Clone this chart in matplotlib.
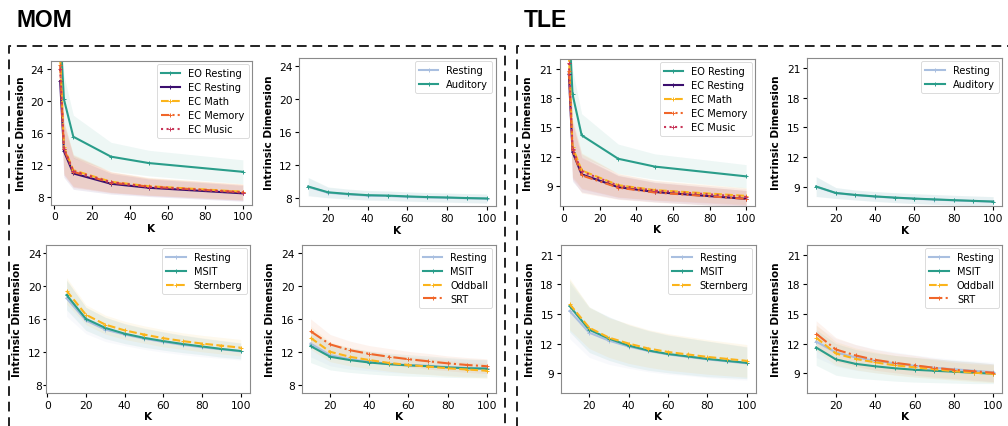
import matplotlib
matplotlib.use("Agg")
import matplotlib.pyplot as plt
from matplotlib.lines import Line2D
import numpy as np

# ---------------- data ----------------
K_rest = [3, 5, 10, 30, 50, 100]
K_task = [10, 20, 30, 40, 50, 60, 70, 80, 90, 100]

# MOM - resting conditions
mom_eo_rest = [29.0, 20.2, 15.5, 13.0, 12.2, 11.1]
mom_eo_rest_sd = [3.0, 3.0, 2.7, 1.8, 1.6, 1.5]
mom_ec_rest = [22.5, 13.7, 10.9, 9.6, 9.1, 8.4]
mom_ec_math = [25.5, 14.2, 11.3, 9.85, 9.3, 8.6]
mom_ec_memory = [24.5, 14.0, 11.1, 9.75, 9.25, 8.55]
mom_ec_music = [24.0, 14.0, 11.2, 9.8, 9.2, 8.5]
mom_ec_sd = [3.0, 3.3, 2.0, 1.3, 1.1, 1.0]

# MOM - auditory
mom_aud_rest = [9.35, 8.65, 8.45, 8.3, 8.25, 8.15, 8.08, 8.03, 7.97, 7.92]
mom_aud = [9.4, 8.7, 8.5, 8.35, 8.3, 8.2, 8.12, 8.07, 8.0, 7.95]
mom_aud_sd = [1.1, 0.65, 0.6, 0.58, 0.57, 0.56, 0.55, 0.55, 0.55, 0.55]

# MOM - MSIT / Sternberg
mom_ms_rest = [18.5, 15.8, 14.7, 14.1, 13.6, 13.2, 12.85, 12.55, 12.3, 12.05]
mom_ms_msit = [18.9, 16.0, 14.9, 14.2, 13.7, 13.3, 12.95, 12.65, 12.35, 12.1]
mom_ms_stern = [19.4, 16.5, 15.3, 14.6, 14.1, 13.65, 13.3, 13.0, 12.75, 12.5]
mom_ms_rest_sd = [2.2, 1.6, 1.45, 1.35, 1.3, 1.25, 1.2, 1.15, 1.1, 1.05]
mom_ms_msit_sd = [1.8, 1.4, 1.3, 1.2, 1.15, 1.1, 1.05, 1.0, 1.0, 0.95]
mom_ms_stern_sd = [1.6, 1.2, 1.15, 1.1, 1.05, 1.05, 1.0, 1.0, 1.0, 1.0]

# MOM - MSIT / Oddball / SRT
mom_os_rest = [13.0, 11.6, 11.1, 10.8, 10.55, 10.4, 10.3, 10.15, 10.05, 10.0]
mom_os_msit = [12.7, 11.4, 11.0, 10.7, 10.5, 10.35, 10.25, 10.1, 10.0, 9.95]
mom_os_odd = [13.7, 12.0, 11.4, 11.0, 10.65, 10.4, 10.2, 10.0, 9.85, 9.7]
mom_os_srt = [14.5, 12.9, 12.2, 11.75, 11.4, 11.1, 10.85, 10.6, 10.4, 10.25]
mom_os_rest_sd = [1.6, 1.3, 1.2, 1.1, 1.05, 1.0, 1.0, 1.0, 1.0, 1.0]
mom_os_msit_sd = [2.0, 1.6, 1.5, 1.4, 1.35, 1.3, 1.25, 1.2, 1.15, 1.1]
mom_os_odd_sd = [1.4, 1.2, 1.1, 1.05, 1.0, 1.0, 0.95, 0.95, 0.9, 0.9]
mom_os_srt_sd = [1.5, 1.2, 1.1, 1.0, 1.0, 0.95, 0.95, 0.9, 0.9, 0.9]

# TLE - resting conditions
tle_eo_rest = [26.0, 18.4, 14.2, 11.8, 11.0, 10.0]
tle_eo_rest_sd = [3.0, 2.5, 2.2, 1.5, 1.3, 1.2]
tle_ec_rest = [20.5, 12.5, 10.2, 8.9, 8.4, 7.7]
tle_ec_math = [22.5, 13.0, 10.6, 9.1, 8.6, 8.0]
tle_ec_memory = [20.8, 12.7, 10.1, 8.85, 8.35, 7.7]
tle_ec_music = [21.6, 12.8, 10.5, 9.05, 8.55, 7.9]
tle_ec_sd = [3.0, 3.0, 1.8, 1.2, 1.0, 0.85]

# TLE - auditory
tle_aud_rest = [8.98, 8.33, 8.13, 7.98, 7.86, 7.76, 7.68, 7.6, 7.53, 7.46]
tle_aud = [9.0, 8.35, 8.15, 8.0, 7.88, 7.78, 7.7, 7.62, 7.55, 7.48]
tle_aud_sd = [1.0, 0.55, 0.5, 0.5, 0.5, 0.5, 0.5, 0.5, 0.5, 0.5]

# TLE - MSIT / Sternberg
tle_ms_rest = [15.3, 13.1, 12.3, 11.7, 11.25, 10.9, 10.65, 10.4, 10.2, 10.0]
tle_ms_msit = [15.8, 13.4, 12.5, 11.8, 11.3, 10.95, 10.7, 10.45, 10.25, 10.05]
tle_ms_stern = [16.0, 13.6, 12.6, 12.0, 11.5, 11.15, 10.9, 10.65, 10.45, 10.25]
tle_ms_rest_sd = [2.8, 2.5, 2.4, 2.2, 2.1, 2.0, 1.9, 1.85, 1.8, 1.7]
tle_ms_msit_sd = [2.6, 2.3, 2.2, 2.1, 2.0, 1.9, 1.85, 1.8, 1.7, 1.6]
tle_ms_stern_sd = [2.6, 2.1, 2.0, 2.0, 1.9, 1.85, 1.8, 1.75, 1.7, 1.65]

# TLE - MSIT / Oddball / SRT
tle_os_rest = [12.2, 11.1, 10.6, 10.25, 10.0, 9.75, 9.55, 9.4, 9.25, 9.1]
tle_os_msit = [11.6, 10.4, 9.95, 9.7, 9.5, 9.35, 9.25, 9.15, 9.05, 8.95]
tle_os_odd = [12.6, 11.0, 10.45, 10.1, 9.8, 9.6, 9.4, 9.2, 9.05, 8.95]
tle_os_srt = [13.0, 11.4, 10.8, 10.35, 10.05, 9.8, 9.55, 9.35, 9.2, 9.05]
tle_os_rest_sd = [1.6, 1.4, 1.3, 1.2, 1.15, 1.1, 1.05, 1.0, 1.0, 1.0]
tle_os_msit_sd = [1.8, 1.6, 1.45, 1.35, 1.3, 1.25, 1.2, 1.15, 1.1, 1.0]
tle_os_odd_sd = [1.3, 1.2, 1.1, 1.05, 1.0, 1.0, 0.95, 0.9, 0.9, 0.9]
tle_os_srt_sd = [1.3, 1.2, 1.1, 1.05, 1.0, 1.0, 0.95, 0.9, 0.9, 0.9]

# ---------------- styles ----------------
C_TEAL = "#2a9d8a"
C_PURPLE = "#3b0f6f"
C_YELLOW = "#fbb41b"
C_ORANGE = "#f0662a"
C_CRIMSON = "#c8375a"
C_LBLUE = "#a9bfe0"
LS_DASHDOTDOT = (0, (4, 1.5, 1, 1.5, 1, 1.5))

W, H = 1008, 427
fig = plt.figure(figsize=(W / 100, H / 100), dpi=100)


def pos(l, r, t, b):
    return [l / W, 1 - b / H, (r - l) / W, (b - t) / H]


def series(ax, k, m, sd, color, ls, label, lw=1.5):
    m = np.asarray(m)
    sd = np.asarray(sd)
    ax.fill_between(k, m - sd, m + sd, color=color, alpha=0.08, lw=0)
    ax.plot(k, m, color=color, ls=ls, lw=lw, marker="+", ms=2.5, mew=0.7,
            label=label)


def style(ax, box, ylab_px, ylim, yticks, xlim=None, ytick_len=3, ytick_pad=2):
    l, r, t, b = box
    ax.set_ylim(*ylim)
    ax.set_yticks(yticks)
    if xlim is not None:
        ax.set_xlim(*xlim)
    ax.set_ylabel("Intrinsic Dimension", fontsize=7.6, fontweight="bold")
    ax.yaxis.set_label_coords(-(l - ylab_px) / (r - l), 0.5)
    ax.set_xlabel("K", fontsize=7.6, fontweight="bold", labelpad=1)
    ax.tick_params(labelsize=7.7, length=3, width=0.8, pad=2)
    ax.tick_params(axis="y", length=ytick_len, pad=ytick_pad)
    for s in ax.spines.values():
        s.set_edgecolor("#8a8a8a")
        s.set_linewidth(0.8)
    leg = ax.legend(loc="upper right", fontsize=7.1, borderaxespad=0.35,
                    handlelength=2.0, labelspacing=0.4, borderpad=0.4)
    leg.get_frame().set_linewidth(0.6)


MOM_Y = ((7, 25), [8, 12, 16, 20, 24])
TLE_Y = ((7, 22), [9, 12, 15, 18, 21])

# ---- MOM top-left ----
box = (51, 252, 62, 205.5)
ax = fig.add_axes(pos(*box))
series(ax, K_rest, mom_eo_rest, mom_eo_rest_sd, C_TEAL, "-", "EO Resting")
series(ax, K_rest, mom_ec_rest, mom_ec_sd, C_PURPLE, "-", "EC Resting")
series(ax, K_rest, mom_ec_math, mom_ec_sd, C_YELLOW, "--", "EC Math")
series(ax, K_rest, mom_ec_memory, mom_ec_sd, C_ORANGE, LS_DASHDOTDOT, "EC Memory")
series(ax, K_rest, mom_ec_music, mom_ec_sd, C_CRIMSON, ":", "EC Music")
style(ax, box, 26, *MOM_Y)

# ---- MOM top-right ----
box = (299.3, 495.7, 59, 207.3)
ax = fig.add_axes(pos(*box))
series(ax, K_task, mom_aud_rest, mom_aud_sd, C_LBLUE, "-", "Resting")
series(ax, K_task, mom_aud, mom_aud_sd, C_TEAL, "-", "Auditory")
style(ax, box, 274, *MOM_Y)

# ---- MOM bottom-left ----
box = (45.7, 250, 245.7, 394)
ax = fig.add_axes(pos(*box))
series(ax, K_task, mom_ms_rest, mom_ms_rest_sd, C_LBLUE, "-", "Resting")
series(ax, K_task, mom_ms_msit, mom_ms_msit_sd, C_TEAL, "-", "MSIT")
series(ax, K_task, mom_ms_stern, mom_ms_stern_sd, C_YELLOW, "--", "Sternberg")
style(ax, box, 22, *MOM_Y, xlim=(-0.8, 104.8), ytick_len=2, ytick_pad=1)

# ---- MOM bottom-right ----
box = (301.7, 495.7, 245.7, 394)
ax = fig.add_axes(pos(*box))
series(ax, K_task, mom_os_rest, mom_os_rest_sd, C_LBLUE, "-", "Resting")
series(ax, K_task, mom_os_msit, mom_os_msit_sd, C_TEAL, "-", "MSIT")
series(ax, K_task, mom_os_odd, mom_os_odd_sd, C_YELLOW, "--", "Oddball")
series(ax, K_task, mom_os_srt, mom_os_srt_sd, C_ORANGE, "-.", "SRT")
style(ax, box, 275, *MOM_Y)

# ---- TLE top-left ----
box = (560, 755, 60, 206.7)
ax = fig.add_axes(pos(*box))
series(ax, K_rest, tle_eo_rest, tle_eo_rest_sd, C_TEAL, "-", "EO Resting")
series(ax, K_rest, tle_ec_rest, tle_ec_sd, C_PURPLE, "-", "EC Resting")
series(ax, K_rest, tle_ec_math, tle_ec_sd, C_YELLOW, "--", "EC Math")
series(ax, K_rest, tle_ec_memory, tle_ec_sd, C_ORANGE, LS_DASHDOTDOT, "EC Memory")
series(ax, K_rest, tle_ec_music, tle_ec_sd, C_CRIMSON, ":", "EC Music")
style(ax, box, 533, *TLE_Y)

# ---- TLE top-right ----
box = (807.3, 1002, 59, 207.3)
ax = fig.add_axes(pos(*box))
series(ax, K_task, tle_aud_rest, tle_aud_sd, C_LBLUE, "-", "Resting")
series(ax, K_task, tle_aud, tle_aud_sd, C_TEAL, "-", "Auditory")
style(ax, box, 781, *TLE_Y)

# ---- TLE bottom-left ----
box = (560.7, 755.7, 245.7, 394)
ax = fig.add_axes(pos(*box))
series(ax, K_task, tle_ms_rest, tle_ms_rest_sd, C_LBLUE, "-", "Resting")
series(ax, K_task, tle_ms_msit, tle_ms_msit_sd, C_TEAL, "-", "MSIT")
series(ax, K_task, tle_ms_stern, tle_ms_stern_sd, C_YELLOW, "--", "Sternberg")
style(ax, box, 535, *TLE_Y)

# ---- TLE bottom-right ----
box = (807.3, 1002.3, 245.7, 394)
ax = fig.add_axes(pos(*box))
series(ax, K_task, tle_os_rest, tle_os_rest_sd, C_LBLUE, "-", "Resting")
series(ax, K_task, tle_os_msit, tle_os_msit_sd, C_TEAL, "-", "MSIT")
series(ax, K_task, tle_os_odd, tle_os_odd_sd, C_YELLOW, "--", "Oddball")
series(ax, K_task, tle_os_srt, tle_os_srt_sd, C_ORANGE, "-.", "SRT")
style(ax, box, 781, *TLE_Y)

# ---- group titles ----
fig.text(16 / W, 1 - 26.7 / H, "MOM", fontsize=16.5, fontweight="bold",
         family=["Liberation Sans", "DejaVu Sans"], va="baseline", ha="left")
fig.text(524 / W, 1 - 26.7 / H, "TLE", fontsize=16.5, fontweight="bold",
         family=["Liberation Sans", "DejaVu Sans"], va="baseline", ha="left")

# ---- dashed group boxes ----
def fx(x):
    return x / W


def fy(y):
    return 1 - y / H


box_kw = dict(color="#222222", lw=1.4, ls=(0, (5, 3)), transform=fig.transFigure)
fig.add_artist(Line2D([fx(8.5), fx(8.5), fx(505), fx(505)],
                      [fy(430), fy(46.7), fy(46.7), fy(430)], **box_kw))
fig.add_artist(Line2D([fx(517.3), fx(517.3), fx(1010)],
                      [fy(430), fy(46.7), fy(46.7)], **box_kw))

fig.savefig("out.png", dpi=100)
